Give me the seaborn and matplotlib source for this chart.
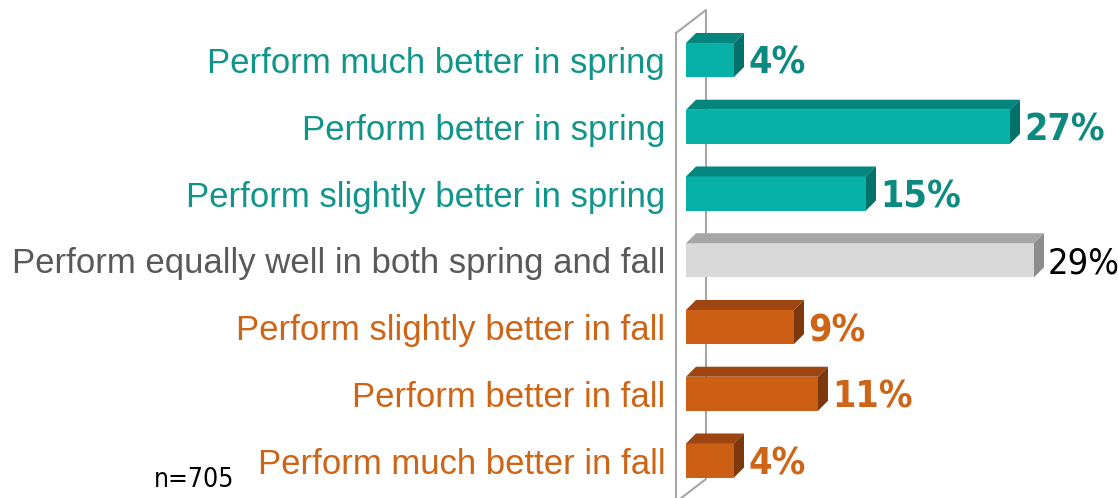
import pandas as pd
import seaborn as sns
import matplotlib.pyplot as plt
from matplotlib.patches import Polygon

# Survey data (n=705)
categories = [
    "Perform much better in spring",
    "Perform better in spring",
    "Perform slightly better in spring",
    "Perform equally well in both spring and fall",
    "Perform slightly better in fall",
    "Perform better in fall",
    "Perform much better in fall",
]
values = [4, 27, 15, 29, 9, 11, 4]
labels = ["4%", "27%", "15%", "29%", "9%", "11%", "4%"]
groups = ["spring", "spring", "spring", "equal", "fall", "fall", "fall"]

# colours per group: front face, top face, side face, text
front = {"spring": "#08B1A8", "equal": "#D9D9D9", "fall": "#CC5F14"}
top = {"spring": "#04857D", "equal": "#A6A6A6", "fall": "#9D4611"}
side = {"spring": "#02716A", "equal": "#8C8C8C", "fall": "#7E380D"}
text_col = {"spring": "#11958B", "equal": "#595959", "fall": "#CD6416"}
value_col = {"spring": "#0C8A80", "equal": "#000000", "fall": "#CD6416"}

df = pd.DataFrame({"category": categories, "value": values, "group": groups})

W, H = 1118, 498
fig = plt.figure(figsize=(W / 100, H / 100), dpi=100)
# x = 0 at pixel 686, 12 px per percent; rows every 66.75 px, first at 60 px
ax = fig.add_axes([686 / W, 0, (W - 686) / W, 1])

palette = {c: front[g] for c, g in zip(categories, groups)}
sns.barplot(data=df, x="value", y="category", hue="category", palette=palette,
            orient="h", width=0.51, legend=False, ax=ax, saturation=1, zorder=3)

px_x = 12.0
px_y = 66.75
ax.set_xlim(0, (W - 686) / px_x)
ymin = -60 / px_y
ax.set_ylim(ymin + H / px_y, ymin)

# 3D faces
dx = 10 / px_x
dy = 10 / px_y
for p, g in zip(ax.patches, groups):
    x0, y0, w, h = p.get_x(), p.get_y(), p.get_width(), p.get_height()
    ax.add_patch(Polygon([(x0, y0), (x0 + w, y0), (x0 + w + dx, y0 - dy), (x0 + dx, y0 - dy)],
                         closed=True, facecolor=top[g], edgecolor="none", zorder=3))
    ax.add_patch(Polygon([(x0 + w, y0), (x0 + w + dx, y0 - dy), (x0 + w + dx, y0 + h - dy), (x0 + w, y0 + h)],
                         closed=True, facecolor=side[g], edgecolor="none", zorder=3))

# back wall lines
def px(xp, yp):
    return (xp - 686) / px_x, ymin + yp / px_y

wall = [(676, 33), (706, 10), (706, 479), (676, 502)]
wx, wy = zip(*[px(a, b) for a, b in wall])
ax.plot(wx, wy, color="#A6A6A6", lw=1.5, zorder=1, clip_on=False)
lx, ly = zip(*[px(676, 33), px(676, 510)])
ax.plot(lx, ly, color="#A6A6A6", lw=1.5, zorder=1, clip_on=False)

# value labels
narrow = "DejaVu Sans"
for i, (v, lab, g) in enumerate(zip(values, labels, groups)):
    bold = g != "equal"
    ax.text(v + 14 / px_x, i, lab, ha="left", va="center_baseline",
            fontsize=27 if bold else 26, fontweight="bold" if bold else "normal",
            fontstretch="condensed", color=value_col[g], family=narrow)

# category labels
ax.set_yticks(range(len(categories)))
ax.set_yticklabels(categories, fontsize=25, family="Liberation Sans")
for t, g in zip(ax.get_yticklabels(), groups):
    t.set_color(text_col[g])
ax.tick_params(axis="y", length=0, pad=15)
ax.set_xlabel("")
ax.set_ylabel("")
ax.set_xticks([])
for s in ax.spines.values():
    s.set_visible(False)

fig.text(154 / W, 1 - 487 / H, "n=705", fontsize=19, ha="left", va="baseline",
         family=narrow, fontstretch="condensed", color="#000000")

fig.savefig("out.png", dpi=100)
